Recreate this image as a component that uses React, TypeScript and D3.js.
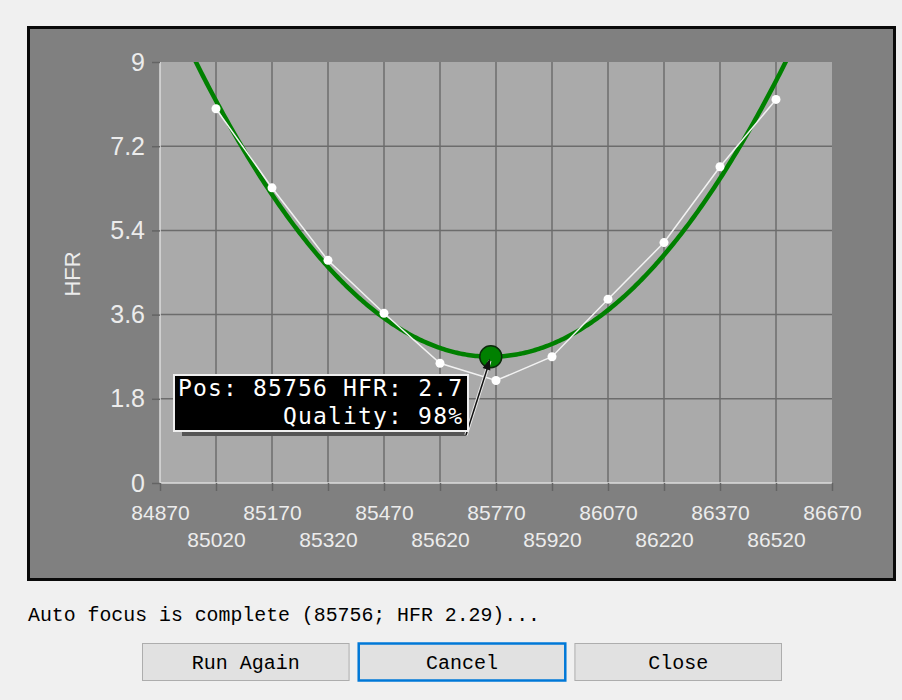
import React, { useEffect, useRef } from 'react';
import * as d3 from 'd3';

// focuser positions (steps) and measured HFR at each
const positions = [85020, 85170, 85320, 85470, 85620, 85770, 85920, 86070, 86220, 86370, 86520];
const hfrValues = [8.0, 6.31, 4.76, 3.63, 2.56, 2.19, 2.7, 3.93, 5.14, 6.76, 8.2];

const xTicks = [84870, 85020, 85170, 85320, 85470, 85620, 85770, 85920, 86070, 86220, 86370, 86520, 86670];
const yTicks = [0, 1.8, 3.6, 5.4, 7.2, 9];

// fitted parabola: vertex (pos, hfr) and curvature
const fitVertex = [85756, 2.7];
const fitCurvature = 1.01e-5;
const fitQuality = 98;

const statusText = 'Auto focus is complete (85756; HFR 2.29)...';
const buttonLabels = ['Run Again', 'Cancel', 'Close'];

const width = 902;
const height = 700;
const left = 160;
const right = 832;
const top = 62;
const bottom = 483;

export default function App() {
    const svgRef = useRef<SVGSVGElement>(null);

    useEffect(() => {
        const svg = d3.select(svgRef.current);
        svg.selectAll('*').remove();

        svg.append('rect').attr('width', width).attr('height', height).attr('fill', '#f0f0f0');

        // chart panel
        svg.append('rect')
            .attr('x', 28.5).attr('y', 27.5).attr('width', 866).attr('height', 552)
            .attr('fill', '#808080').attr('stroke', '#0a0a0a').attr('stroke-width', 3);

        const x = d3.scaleLinear().domain([xTicks[0], xTicks[xTicks.length - 1]]).range([left, right]);
        const y = d3.scaleLinear().domain([0, 9]).range([bottom, top]);

        svg.append('rect')
            .attr('x', left).attr('y', top).attr('width', right - left).attr('height', bottom - top)
            .attr('fill', '#aaaaaa');

        svg.append('clipPath').attr('id', 'plotClip')
            .append('rect')
            .attr('x', left).attr('y', top).attr('width', right - left).attr('height', bottom - top);

        // grid
        const grid = svg.append('g').attr('stroke', '#6c6c6c').attr('stroke-width', 1.5);
        grid.selectAll('line.v')
            .data(xTicks.slice(1, -1))
            .join('line')
                .attr('x1', d => x(d)).attr('x2', d => x(d))
                .attr('y1', top).attr('y2', bottom);
        grid.selectAll('line.h')
            .data(yTicks.slice(1, -1))
            .join('line')
                .attr('x1', left).attr('x2', right)
                .attr('y1', d => y(d)).attr('y2', d => y(d));

        // light plot edges (left + bottom)
        svg.append('path')
            .attr('d', `M${left},${top}V${bottom}H${right}`)
            .attr('fill', 'none').attr('stroke', '#dcdcdc').attr('stroke-width', 1.5);

        // y axis
        const yAxis = svg.append('g')
            .attr('transform', `translate(${left}, 0)`)
            .call(d3.axisLeft(y).tickValues(yTicks).tickSize(8).tickPadding(7).tickFormat(d3.format('')));
        yAxis.select('.domain').remove();
        yAxis.selectAll('line').attr('stroke', '#646464').attr('stroke-width', 1.5);
        yAxis.selectAll('text')
            .attr('fill', '#ececec').attr('font-size', 25).attr('font-family', 'Liberation Sans, Arial, sans-serif');

        // x axis with staggered labels
        const xAxis = svg.append('g')
            .attr('transform', `translate(0, ${bottom})`)
            .call(d3.axisBottom(x).tickValues(xTicks).tickSize(8).tickFormat(d3.format('d')));
        xAxis.select('.domain').remove();
        xAxis.selectAll('line').attr('stroke', '#646464').attr('stroke-width', 1.5);
        xAxis.selectAll('text')
            .attr('fill', '#ececec').attr('font-size', 21).attr('font-family', 'Liberation Sans, Arial, sans-serif')
            .attr('y', (d, i) => i % 2 === 0 ? 30 : 57)
            .attr('dy', '0.35em');

        svg.append('text')
            .attr('transform', `translate(80, 274) rotate(-90)`)
            .attr('text-anchor', 'middle')
            .attr('fill', '#ececec').attr('font-size', 22).attr('font-family', 'Liberation Sans, Arial, sans-serif')
            .text('HFR');

        const plotArea = svg.append('g').attr('clip-path', 'url(#plotClip)');

        // fitted curve
        const fitPoints = d3.range(xTicks[0], xTicks[xTicks.length - 1] + 1, 5)
            .map(p => [p, fitVertex[1] + fitCurvature * (p - fitVertex[0]) ** 2]);
        plotArea.append('path')
            .datum(fitPoints)
            .attr('d', d3.line().x(d => x(d[0])).y(d => y(d[1])))
            .attr('fill', 'none').attr('stroke', '#008000').attr('stroke-width', 4.5);

        // measured points
        const measured = positions.map((p, i) => [p, hfrValues[i]]);
        plotArea.append('path')
            .datum(measured)
            .attr('d', d3.line().x(d => x(d[0])).y(d => y(d[1])))
            .attr('fill', 'none').attr('stroke', '#f2f2f2').attr('stroke-width', 1.5);
        plotArea.selectAll('circle.pt')
            .data(measured)
            .join('circle')
                .attr('cx', d => x(d[0])).attr('cy', d => y(d[1]))
                .attr('r', 4.5).attr('fill', '#ffffff');

        // minimum marker
        const mx = x(fitVertex[0]);
        const my = y(fitVertex[1]);
        svg.append('circle')
            .attr('cx', mx).attr('cy', my).attr('r', 11)
            .attr('fill', '#008000').attr('stroke', '#0b2a0b').attr('stroke-width', 1.5);

        // callout
        const bx = 174;
        const by = 375;
        const bw = 294;
        const bh = 56;
        svg.append('rect')
            .attr('x', bx + 8).attr('y', by + bh).attr('width', bw - 10).attr('height', 5)
            .attr('fill', '#555555');
        svg.append('line')
            .attr('x1', bx + bw - 2).attr('y1', by + bh + 4).attr('x2', mx - 1).attr('y2', my + 4)
            .attr('stroke', '#e8e8e8').attr('stroke-width', 3.5);
        svg.append('line')
            .attr('x1', bx + bw - 2).attr('y1', by + bh + 4).attr('x2', mx - 1).attr('y2', my + 4)
            .attr('stroke', '#111').attr('stroke-width', 1.5);
        const ang = Math.atan2(my + 2 - (by + bh + 4), mx - 1 - (bx + bw - 2));
        const tipX = mx - 1;
        const tipY = my + 2;
        const ah = 11;
        const aw = 4;
        svg.append('path')
            .attr('d', `M${tipX},${tipY}` +
                `L${tipX - ah * Math.cos(ang) + aw * Math.sin(ang)},${tipY - ah * Math.sin(ang) - aw * Math.cos(ang)}` +
                `L${tipX - ah * Math.cos(ang) - aw * Math.sin(ang)},${tipY - ah * Math.sin(ang) + aw * Math.cos(ang)}Z`)
            .attr('fill', '#111');
        svg.append('rect')
            .attr('x', bx).attr('y', by).attr('width', bw).attr('height', bh)
            .attr('fill', '#000').attr('stroke', '#efefef').attr('stroke-width', 2);
        const mono = 'DejaVu Sans Mono, monospace';
        svg.append('text')
            .attr('x', 178).attr('y', 396)
            .attr('textLength', 284).attr('lengthAdjust', 'spacing')
            .attr('fill', '#fff').attr('font-size', 23).attr('font-family', mono)
            .text(`Pos: ${fitVertex[0]} HFR: ${fitVertex[1]}`);
        svg.append('text')
            .attr('x', 283).attr('y', 424)
            .attr('textLength', 179).attr('lengthAdjust', 'spacing')
            .attr('fill', '#fff').attr('font-size', 23).attr('font-family', mono)
            .text(`Quality: ${fitQuality}%`);

        // status line + buttons
        svg.append('text')
            .attr('x', 28).attr('y', 621)
            .attr('textLength', 512).attr('lengthAdjust', 'spacingAndGlyphs')
            .attr('fill', '#000').attr('font-size', 20).attr('font-family', 'Liberation Mono, monospace')
            .text(statusText);

        const bxScale = d3.scaleBand().domain(buttonLabels).range([142, 782]).paddingInner(0.04);
        const btn = svg.append('g').selectAll('g')
            .data(buttonLabels)
            .join('g')
                .attr('transform', d => `translate(${bxScale(d)}, 643)`);
        btn.append('rect')
            .attr('x', 0.5).attr('y', 0.5).attr('width', bxScale.bandwidth() - 1).attr('height', 37)
            .attr('fill', '#e1e1e1')
            .attr('stroke', d => d === 'Cancel' ? '#0078d7' : '#adadad')
            .attr('stroke-width', d => d === 'Cancel' ? 2.5 : 1);
        btn.append('text')
            .attr('x', bxScale.bandwidth() / 2).attr('y', 19)
            .attr('dy', '0.35em').attr('text-anchor', 'middle')
            .attr('fill', '#000').attr('font-size', 20).attr('font-family', 'Liberation Mono, monospace')
            .text(d => d);
    }, []);

    return (
        <svg ref={svgRef} width={width} height={height}
            style={{ position: 'absolute', left: 0, top: 0, display: 'block' }} />
    );
}
